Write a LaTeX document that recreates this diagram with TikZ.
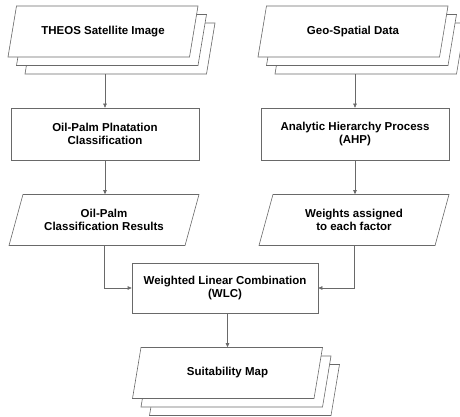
\documentclass[tikz,border=0pt]{standalone}
\usepackage[svgnames]{xcolor}
\usepackage{fontspec}
\setmainfont{Liberation Sans}
\usepackage{tikz}
\usetikzlibrary{shapes.geometric,shadows,arrows.meta,backgrounds}
\colorlet{flowLine}{DimGray}
\colorlet{flowFill}{White}

\begin{document}
\begin{tikzpicture}[
  x=1pt,
  y=-1pt,
  line width=0.6pt,
  every node/.style={
    font=\bfseries\fontsize{11.5}{13.5}\selectfont,
    align=center,
  },
  process box/.style={
    draw=flowLine,
    fill=flowFill,
    minimum width=188pt,
    minimum height=52pt,
  },
  data slab/.style={
    trapezium,
    trapezium left angle=64,
    trapezium right angle=116,
    trapezium stretches body,
    draw=flowLine,
    fill=flowFill,
    minimum width=190pt,
    minimum height=51pt,
  },
  data stack/.style={
    data slab,
    general shadow={shadow xshift=17pt,shadow yshift=-17pt,draw=flowLine,fill=flowFill},
    general shadow={shadow xshift=8.5pt,shadow yshift=-8.5pt,draw=flowLine,fill=flowFill},
  },
  flow/.style={
    draw=flowLine,
    -{Triangle[length=4pt,width=3.5pt]},
  },
]
\useasboundingbox (0,0) rectangle (460,417);
% inputs
\node[data stack] (theos) at (103,31.5) {THEOS Satellite Image};
\node[data stack] (geo) at (353,31.5) {Geo-Spatial Data};
% processing
\node[process box] (opc) at (105,134) {Oil-Palm Plnatation\\Classification};
\node[process box] (ahp) at (355,134) {Analytic Hierarchy Process\\(AHP)};
\node[data slab] (ocr) at (104,220) {Oil-Palm\\Classification Results};
\node[data slab] (wts) at (354,220) {Weights assigned\\to each factor};
\node[process box,minimum width=186pt,minimum height=50pt] (wlc) at (225,288)
  {Weighted Linear Combination\\(WLC)};
% output
\node[data stack] (suit) at (227.5,373) {Suitability Map};
\begin{scope}[on background layer]
\draw[flow] (opc.north |- theos.south) -- (opc.north);
\draw[flow] (ahp.north |- geo.south) -- (ahp.north);
\end{scope}
\draw[flow] (opc.south) -- (opc.south |- ocr.north);
\draw[flow] (ahp.south) -- (ahp.south |- wts.north);
\draw[flow] (ocr.south) |- (wlc.west);
\draw[flow] (wts.south) |- (wlc.east);
\draw[flow] (suit.north |- wlc.south) -- (suit.north);
\end{tikzpicture}
\end{document}
